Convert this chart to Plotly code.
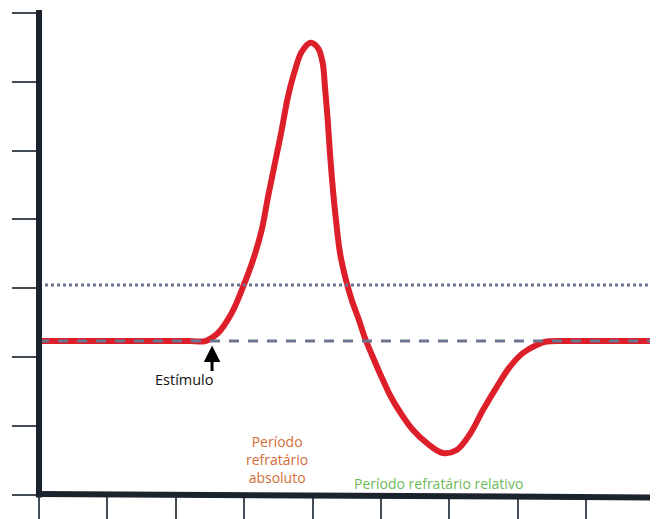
import plotly.graph_objects as go

# Membrane potential trace (data units: x in tick steps, y in tick steps)
trace_x = [0, 1.5, 2.2, 2.43, 2.617, 2.817, 2.982, 3.129, 3.256, 3.348, 3.450, 3.548, 3.640,
           3.743, 3.841, 3.972, 4.079, 4.148, 4.181, 4.221, 4.254, 4.294, 4.342, 4.401, 4.488,
           4.572, 4.678, 4.766, 4.868, 5.015, 5.146, 5.278, 5.468, 5.668, 5.906, 6.107, 6.301,
           6.491, 6.691, 6.886, 7.076, 7.276, 7.422, 7.763, 8.5, 9.05]
trace_y = [2.235, 2.235, 2.235, 2.235, 2.351, 2.641, 3.019, 3.411, 3.846, 4.325, 4.819, 5.298, 5.781,
           6.168, 6.434, 6.565, 6.488, 6.270, 5.922, 5.443, 4.964, 4.470, 3.991, 3.512, 3.120,
           2.830, 2.540, 2.279, 2.032, 1.698, 1.422, 1.205, 0.943, 0.755, 0.610, 0.653, 0.885,
           1.234, 1.567, 1.862, 2.061, 2.177, 2.228, 2.235, 2.235, 2.235]

resting_level = 2.235
threshold_level = 3.05
x_span = [0, 9.05]
y_span = [0, 7.04]
stimulus_x = 2.53

label_stimulus = "Estímulo"
label_absolute = "Período<br>refratário<br>absoluto"
label_relative = "Período refratário relativo"

fig = go.Figure()

fig.add_trace(go.Scatter(x=trace_x, y=trace_y, mode="lines",
                         line=dict(color="#dd1f29", width=6, shape="spline", smoothing=1.0),
                         hoverinfo="skip", showlegend=False))
fig.add_trace(go.Scatter(x=x_span, y=[resting_level, resting_level], mode="lines",
                         line=dict(color="#6c7592", width=3, dash="10px,9px"),
                         hoverinfo="skip", showlegend=False))
fig.add_trace(go.Scatter(x=x_span, y=[threshold_level, threshold_level], mode="lines",
                         line=dict(color="#6c7592", width=3, dash="3px,3px"),
                         hoverinfo="skip", showlegend=False))

font_family = "Open Sans, Noto Sans, sans-serif"

fig.add_annotation(x=stimulus_x, y=2.17, ax=0, ay=27, xref="x", yref="y",
                   text="", showarrow=True, arrowhead=2, arrowsize=1.1,
                   arrowwidth=3, arrowcolor="#000000")
fig.add_annotation(x=2.13, y=1.67, xref="x", yref="y", text=label_stimulus,
                   showarrow=False, font=dict(family=font_family, size=14.5, color="#111111"))
fig.add_annotation(x=3.48, y=0.52, xref="x", yref="y", text=label_absolute,
                   showarrow=False, font=dict(family=font_family, size=14, color="#d26d38"))
fig.add_annotation(x=5.84, y=0.17, xref="x", yref="y", text=label_relative,
                   showarrow=False, font=dict(family=font_family, size=14, color="#6dbb58"))

# Heavy axis lines (drawn as paper-referenced shapes so they are not clipped)
axis_color = "#1b232d"
fig.add_shape(type="line", xref="paper", yref="paper", x0=0, x1=0, y0=-0.005, y1=1,
              line=dict(color=axis_color, width=6), layer="above")
fig.add_shape(type="line", xref="paper", yref="paper", x0=-0.005, x1=1, y0=0.002, y1=-0.005,
              line=dict(color=axis_color, width=6), layer="above")

axis_common = dict(showgrid=False, zeroline=False, showticklabels=False, showline=False,
                   ticks="outside", tickwidth=2, tickcolor="#444c58", dtick=1, tick0=0)

# The page body adds an 8px margin, so the figure is sized to fill the rest of the window.
fig.update_layout(
    width=650, height=511,
    margin=dict(l=31, r=0, t=2, b=16),
    paper_bgcolor="white", plot_bgcolor="white",
    xaxis=dict(range=x_span, ticklen=24, **axis_common),
    yaxis=dict(range=y_span, ticklen=26, **axis_common),
)

fig.write_html("out.html")
